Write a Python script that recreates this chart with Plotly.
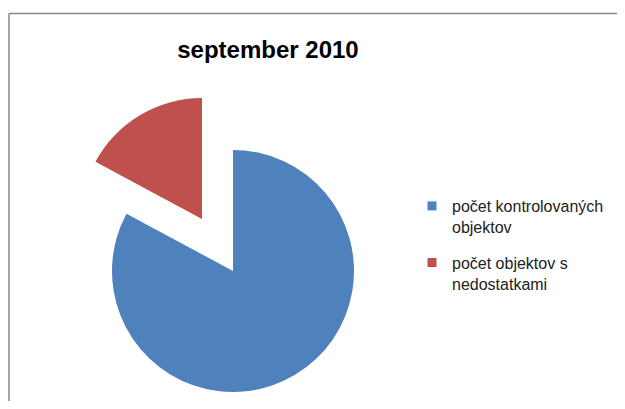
import math
import plotly.graph_objects as go

# ---- data ----
labels = ["počet kontrolovaných objektov", "počet objektov s nedostatkami"]
legend_text = ["počet kontrolovaných<br>objektov", "počet objektov s<br>nedostatkami"]
values = [145, 30]
colors = ["#4F81BD", "#C0504D"]
title_text = "september 2010"

# the page body adds an 8px margin on every side; size the figure to fit inside it
OFF = 8
W, H = 625 - 2 * OFF, 409 - 2 * OFF
CLEAR = "rgba(0,0,0,0)"

def px(x):
    return (x - OFF) / W

def py(y):
    return 1 - (y - OFF) / H

# layout geometry (page pixels)
cx, cy, r = 233, 271, 121
pull = 0.5

def dom(cx_, cy_, r_):
    return dict(x=[px(cx_ - r_), px(cx_ + r_)],
                y=[py(cy_ + r_), py(cy_ - r_)])

# exploded slice centre, computed from the data (bisector of the 2nd slice)
total = sum(values)
start = values[0] / total * 360
mid = math.radians(start + values[1] / total * 360 / 2)  # clockwise from 12 o'clock
ex = cx + pull * r * math.sin(mid)
ey = cy - pull * r * math.cos(mid)

fig = go.Figure()

fig.add_trace(go.Pie(
    labels=labels, values=values, sort=False, direction="clockwise", rotation=0,
    marker=dict(colors=[colors[0], CLEAR], line=dict(width=0)),
    textinfo="none", hoverinfo="skip", showlegend=False,
    domain=dom(cx, cy, r)))

fig.add_trace(go.Pie(
    labels=labels, values=values, sort=False, direction="clockwise", rotation=0,
    marker=dict(colors=[CLEAR, colors[1]], line=dict(width=0)),
    textinfo="none", hoverinfo="skip", showlegend=False,
    domain=dom(ex, ey, r)))

for i, (t, c) in enumerate(zip(legend_text, colors)):
    fig.add_trace(go.Scatter(
        x=[None], y=[None], mode="markers", name=t, legendgroup=f"g{i}",
        marker=dict(symbol="square", size=9, color=c), hoverinfo="skip"))

frame = dict(color="#888888", width=1.5)
fig.update_layout(
    width=W, height=H,
    margin=dict(l=0, r=0, t=0, b=0),
    paper_bgcolor="white", plot_bgcolor="white",
    font=dict(family="Liberation Sans, Arial, sans-serif", size=16, color="#222222"),
    title=dict(text="<b>" + title_text + "</b>", x=px(268), xanchor="center",
               y=py(50), yanchor="middle",
               font=dict(size=24, color="#000000", family="Liberation Sans, Arial, sans-serif")),
    xaxis=dict(visible=False), yaxis=dict(visible=False),
    legend=dict(x=px(412), xanchor="left", y=py(189), yanchor="top",
                valign="top", traceorder="grouped", tracegroupgap=12,
                bgcolor=CLEAR, font=dict(size=16, color="#222222")),
    shapes=[
        dict(type="line", xref="paper", yref="paper",
             x0=px(9), x1=1.05, y0=py(13.5), y1=py(13.5), line=frame, layer="below"),
        dict(type="line", xref="paper", yref="paper",
             x0=px(9), x1=px(9), y0=py(13.5), y1=-0.05, line=frame, layer="below"),
    ],
)

fig.write_html("out.html", config={"displayModeBar": False})
